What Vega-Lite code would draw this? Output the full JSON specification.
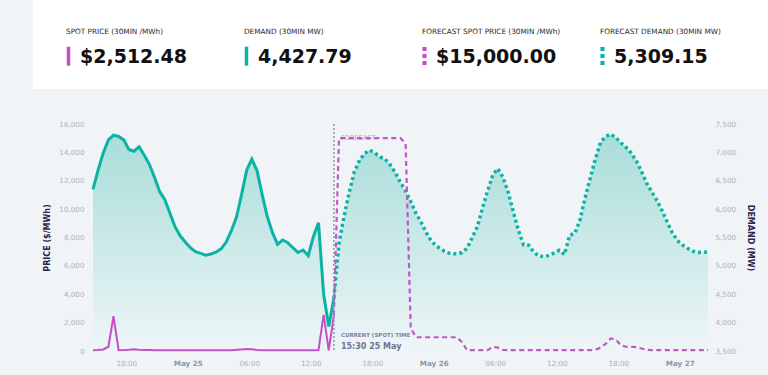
{
  "$schema": "https://vega.github.io/schema/vega-lite/v6.json",
  "background": "#f0f4f7",
  "padding": {"left": 33, "top": 0, "right": 0, "bottom": 9},
  "spacing": 31,
  "config": {
    "font": "DejaVu Sans",
    "view": {"stroke": null},
    "axis": {"grid": false, "domain": false, "ticks": false, "tickSize": 0, "labelOverlap": false},
    "axisLeft": {
      "offset": -60,
      "labelFontSize": 7.2,
      "labelColor": "#aab3bd",
      "labelPadding": 9,
      "titleFontSize": 8,
      "titleFontWeight": "bold",
      "titleColor": "#2d2350",
      "titlePadding": 7
    },
    "axisRight": {
      "offset": -60,
      "labelFontSize": 7.2,
      "labelColor": "#aab3bd",
      "labelPadding": 7,
      "titleFontSize": 8,
      "titleFontWeight": "bold",
      "titleColor": "#2d2350",
      "titlePadding": 10
    }
  },
  "datasets": {
    "kpi": [
      {"metric": "SPOT PRICE (30MIN /MWh)", "value": 2512.48, "series": "price", "kind": "actual"},
      {"metric": "DEMAND (30MIN MW)", "value": 4427.79, "series": "demand", "kind": "actual"},
      {"metric": "FORECAST SPOT PRICE (30MIN /MWh)", "value": 15000, "series": "price", "kind": "forecast"},
      {"metric": "FORECAST DEMAND (30MIN MW)", "value": 5309.15, "series": "demand", "kind": "forecast"}
    ],
    "now": [
      {"t": "2024-05-25T14:15:00Z", "caption": "CURRENT (SPOT) TIME", "stamp": "15:30 25 May", "zone": "FORECAST"}
    ],
    "demand": [
      {"t": "2024-05-24T14:45:00Z", "mw": 6350, "series": "Actual"},
      {"t": "2024-05-24T15:15:00Z", "mw": 6690, "series": "Actual"},
      {"t": "2024-05-24T15:45:00Z", "mw": 6990, "series": "Actual"},
      {"t": "2024-05-24T16:15:00Z", "mw": 7220, "series": "Actual"},
      {"t": "2024-05-24T16:45:00Z", "mw": 7305, "series": "Actual"},
      {"t": "2024-05-24T17:15:00Z", "mw": 7280, "series": "Actual"},
      {"t": "2024-05-24T17:45:00Z", "mw": 7220, "series": "Actual"},
      {"t": "2024-05-24T18:15:00Z", "mw": 7050, "series": "Actual"},
      {"t": "2024-05-24T18:45:00Z", "mw": 7020, "series": "Actual"},
      {"t": "2024-05-24T19:15:00Z", "mw": 7100, "series": "Actual"},
      {"t": "2024-05-24T19:45:00Z", "mw": 6950, "series": "Actual"},
      {"t": "2024-05-24T20:15:00Z", "mw": 6790, "series": "Actual"},
      {"t": "2024-05-24T20:45:00Z", "mw": 6560, "series": "Actual"},
      {"t": "2024-05-24T21:15:00Z", "mw": 6310, "series": "Actual"},
      {"t": "2024-05-24T21:45:00Z", "mw": 6170, "series": "Actual"},
      {"t": "2024-05-24T22:15:00Z", "mw": 5930, "series": "Actual"},
      {"t": "2024-05-24T22:45:00Z", "mw": 5690, "series": "Actual"},
      {"t": "2024-05-24T23:15:00Z", "mw": 5530, "series": "Actual"},
      {"t": "2024-05-24T23:45:00Z", "mw": 5420, "series": "Actual"},
      {"t": "2024-05-25T00:15:00Z", "mw": 5320, "series": "Actual"},
      {"t": "2024-05-25T00:45:00Z", "mw": 5250, "series": "Actual"},
      {"t": "2024-05-25T01:15:00Z", "mw": 5220, "series": "Actual"},
      {"t": "2024-05-25T01:45:00Z", "mw": 5190, "series": "Actual"},
      {"t": "2024-05-25T02:15:00Z", "mw": 5210, "series": "Actual"},
      {"t": "2024-05-25T02:45:00Z", "mw": 5240, "series": "Actual"},
      {"t": "2024-05-25T03:15:00Z", "mw": 5300, "series": "Actual"},
      {"t": "2024-05-25T03:45:00Z", "mw": 5420, "series": "Actual"},
      {"t": "2024-05-25T04:15:00Z", "mw": 5620, "series": "Actual"},
      {"t": "2024-05-25T04:45:00Z", "mw": 5860, "series": "Actual"},
      {"t": "2024-05-25T05:15:00Z", "mw": 6260, "series": "Actual"},
      {"t": "2024-05-25T05:45:00Z", "mw": 6690, "series": "Actual"},
      {"t": "2024-05-25T06:15:00Z", "mw": 6880, "series": "Actual"},
      {"t": "2024-05-25T06:45:00Z", "mw": 6680, "series": "Actual"},
      {"t": "2024-05-25T07:15:00Z", "mw": 6260, "series": "Actual"},
      {"t": "2024-05-25T07:45:00Z", "mw": 5870, "series": "Actual"},
      {"t": "2024-05-25T08:15:00Z", "mw": 5590, "series": "Actual"},
      {"t": "2024-05-25T08:45:00Z", "mw": 5380, "series": "Actual"},
      {"t": "2024-05-25T09:15:00Z", "mw": 5456, "series": "Actual"},
      {"t": "2024-05-25T09:45:00Z", "mw": 5410, "series": "Actual"},
      {"t": "2024-05-25T10:15:00Z", "mw": 5320, "series": "Actual"},
      {"t": "2024-05-25T10:45:00Z", "mw": 5235, "series": "Actual"},
      {"t": "2024-05-25T11:15:00Z", "mw": 5280, "series": "Actual"},
      {"t": "2024-05-25T11:45:00Z", "mw": 5180, "series": "Actual"},
      {"t": "2024-05-25T12:15:00Z", "mw": 5515, "series": "Actual"},
      {"t": "2024-05-25T12:45:00Z", "mw": 5760, "series": "Actual"},
      {"t": "2024-05-25T13:15:00Z", "mw": 4500, "series": "Actual"},
      {"t": "2024-05-25T13:45:00Z", "mw": 3930, "series": "Actual"},
      {"t": "2024-05-25T14:15:00Z", "mw": 4427.79, "series": "Actual"},
      {"t": "2024-05-25T14:15:00Z", "mw": 4427.79, "series": "Forecast"},
      {"t": "2024-05-25T14:45:00Z", "mw": 5400, "series": "Forecast"},
      {"t": "2024-05-25T15:15:00Z", "mw": 5880, "series": "Forecast"},
      {"t": "2024-05-25T15:45:00Z", "mw": 6300, "series": "Forecast"},
      {"t": "2024-05-25T16:15:00Z", "mw": 6660, "series": "Forecast"},
      {"t": "2024-05-25T16:45:00Z", "mw": 6860, "series": "Forecast"},
      {"t": "2024-05-25T17:15:00Z", "mw": 6980, "series": "Forecast"},
      {"t": "2024-05-25T17:45:00Z", "mw": 7040, "series": "Forecast"},
      {"t": "2024-05-25T18:15:00Z", "mw": 6990, "series": "Forecast"},
      {"t": "2024-05-25T18:45:00Z", "mw": 6920, "series": "Forecast"},
      {"t": "2024-05-25T19:15:00Z", "mw": 6880, "series": "Forecast"},
      {"t": "2024-05-25T19:45:00Z", "mw": 6780, "series": "Forecast"},
      {"t": "2024-05-25T20:15:00Z", "mw": 6640, "series": "Forecast"},
      {"t": "2024-05-25T20:45:00Z", "mw": 6470, "series": "Forecast"},
      {"t": "2024-05-25T21:15:00Z", "mw": 6320, "series": "Forecast"},
      {"t": "2024-05-25T21:45:00Z", "mw": 6130, "series": "Forecast"},
      {"t": "2024-05-25T22:15:00Z", "mw": 5930, "series": "Forecast"},
      {"t": "2024-05-25T22:45:00Z", "mw": 5770, "series": "Forecast"},
      {"t": "2024-05-25T23:15:00Z", "mw": 5590, "series": "Forecast"},
      {"t": "2024-05-25T23:45:00Z", "mw": 5440, "series": "Forecast"},
      {"t": "2024-05-26T00:15:00Z", "mw": 5350, "series": "Forecast"},
      {"t": "2024-05-26T00:45:00Z", "mw": 5290, "series": "Forecast"},
      {"t": "2024-05-26T01:15:00Z", "mw": 5235, "series": "Forecast"},
      {"t": "2024-05-26T01:45:00Z", "mw": 5215, "series": "Forecast"},
      {"t": "2024-05-26T02:15:00Z", "mw": 5212, "series": "Forecast"},
      {"t": "2024-05-26T02:45:00Z", "mw": 5235, "series": "Forecast"},
      {"t": "2024-05-26T03:15:00Z", "mw": 5310, "series": "Forecast"},
      {"t": "2024-05-26T03:45:00Z", "mw": 5500, "series": "Forecast"},
      {"t": "2024-05-26T04:15:00Z", "mw": 5690, "series": "Forecast"},
      {"t": "2024-05-26T04:45:00Z", "mw": 6020, "series": "Forecast"},
      {"t": "2024-05-26T05:15:00Z", "mw": 6320, "series": "Forecast"},
      {"t": "2024-05-26T05:45:00Z", "mw": 6600, "series": "Forecast"},
      {"t": "2024-05-26T06:15:00Z", "mw": 6715, "series": "Forecast"},
      {"t": "2024-05-26T06:45:00Z", "mw": 6560, "series": "Forecast"},
      {"t": "2024-05-26T07:15:00Z", "mw": 6300, "series": "Forecast"},
      {"t": "2024-05-26T07:45:00Z", "mw": 5960, "series": "Forecast"},
      {"t": "2024-05-26T08:15:00Z", "mw": 5630, "series": "Forecast"},
      {"t": "2024-05-26T08:45:00Z", "mw": 5370, "series": "Forecast"},
      {"t": "2024-05-26T09:15:00Z", "mw": 5365, "series": "Forecast"},
      {"t": "2024-05-26T09:45:00Z", "mw": 5245, "series": "Forecast"},
      {"t": "2024-05-26T10:15:00Z", "mw": 5170, "series": "Forecast"},
      {"t": "2024-05-26T10:45:00Z", "mw": 5162, "series": "Forecast"},
      {"t": "2024-05-26T11:15:00Z", "mw": 5185, "series": "Forecast"},
      {"t": "2024-05-26T11:45:00Z", "mw": 5230, "series": "Forecast"},
      {"t": "2024-05-26T12:15:00Z", "mw": 5275, "series": "Forecast"},
      {"t": "2024-05-26T12:45:00Z", "mw": 5200, "series": "Forecast"},
      {"t": "2024-05-26T13:15:00Z", "mw": 5540, "series": "Forecast"},
      {"t": "2024-05-26T13:45:00Z", "mw": 5570, "series": "Forecast"},
      {"t": "2024-05-26T14:15:00Z", "mw": 5800, "series": "Forecast"},
      {"t": "2024-05-26T14:45:00Z", "mw": 6190, "series": "Forecast"},
      {"t": "2024-05-26T15:15:00Z", "mw": 6540, "series": "Forecast"},
      {"t": "2024-05-26T15:45:00Z", "mw": 6880, "series": "Forecast"},
      {"t": "2024-05-26T16:15:00Z", "mw": 7170, "series": "Forecast"},
      {"t": "2024-05-26T16:45:00Z", "mw": 7280, "series": "Forecast"},
      {"t": "2024-05-26T17:15:00Z", "mw": 7320, "series": "Forecast"},
      {"t": "2024-05-26T17:45:00Z", "mw": 7260, "series": "Forecast"},
      {"t": "2024-05-26T18:15:00Z", "mw": 7170, "series": "Forecast"},
      {"t": "2024-05-26T18:45:00Z", "mw": 7090, "series": "Forecast"},
      {"t": "2024-05-26T19:15:00Z", "mw": 6990, "series": "Forecast"},
      {"t": "2024-05-26T19:45:00Z", "mw": 6850, "series": "Forecast"},
      {"t": "2024-05-26T20:15:00Z", "mw": 6670, "series": "Forecast"},
      {"t": "2024-05-26T20:45:00Z", "mw": 6460, "series": "Forecast"},
      {"t": "2024-05-26T21:15:00Z", "mw": 6310, "series": "Forecast"},
      {"t": "2024-05-26T21:45:00Z", "mw": 6160, "series": "Forecast"},
      {"t": "2024-05-26T22:15:00Z", "mw": 5980, "series": "Forecast"},
      {"t": "2024-05-26T22:45:00Z", "mw": 5780, "series": "Forecast"},
      {"t": "2024-05-26T23:15:00Z", "mw": 5590, "series": "Forecast"},
      {"t": "2024-05-26T23:45:00Z", "mw": 5450, "series": "Forecast"},
      {"t": "2024-05-27T00:15:00Z", "mw": 5370, "series": "Forecast"},
      {"t": "2024-05-27T00:45:00Z", "mw": 5310, "series": "Forecast"},
      {"t": "2024-05-27T01:15:00Z", "mw": 5260, "series": "Forecast"},
      {"t": "2024-05-27T01:45:00Z", "mw": 5235, "series": "Forecast"},
      {"t": "2024-05-27T02:15:00Z", "mw": 5240, "series": "Forecast"},
      {"t": "2024-05-27T02:45:00Z", "mw": 5245, "series": "Forecast"}
    ],
    "price": [
      {"t": "2024-05-24T14:45:00Z", "p": 60, "series": "Actual"},
      {"t": "2024-05-24T15:15:00Z", "p": 65, "series": "Actual"},
      {"t": "2024-05-24T15:45:00Z", "p": 110, "series": "Actual"},
      {"t": "2024-05-24T16:15:00Z", "p": 300, "series": "Actual"},
      {"t": "2024-05-24T16:45:00Z", "p": 2450, "series": "Actual"},
      {"t": "2024-05-24T17:15:00Z", "p": 60, "series": "Actual"},
      {"t": "2024-05-24T17:45:00Z", "p": 65, "series": "Actual"},
      {"t": "2024-05-24T18:15:00Z", "p": 80, "series": "Actual"},
      {"t": "2024-05-24T18:45:00Z", "p": 130, "series": "Actual"},
      {"t": "2024-05-24T19:15:00Z", "p": 90, "series": "Actual"},
      {"t": "2024-05-24T19:45:00Z", "p": 70, "series": "Actual"},
      {"t": "2024-05-24T20:15:00Z", "p": 65, "series": "Actual"},
      {"t": "2024-05-24T20:45:00Z", "p": 60, "series": "Actual"},
      {"t": "2024-05-24T21:15:00Z", "p": 60, "series": "Actual"},
      {"t": "2024-05-24T21:45:00Z", "p": 55, "series": "Actual"},
      {"t": "2024-05-24T22:15:00Z", "p": 55, "series": "Actual"},
      {"t": "2024-05-24T22:45:00Z", "p": 55, "series": "Actual"},
      {"t": "2024-05-24T23:15:00Z", "p": 50, "series": "Actual"},
      {"t": "2024-05-24T23:45:00Z", "p": 50, "series": "Actual"},
      {"t": "2024-05-25T00:15:00Z", "p": 50, "series": "Actual"},
      {"t": "2024-05-25T00:45:00Z", "p": 50, "series": "Actual"},
      {"t": "2024-05-25T01:15:00Z", "p": 50, "series": "Actual"},
      {"t": "2024-05-25T01:45:00Z", "p": 50, "series": "Actual"},
      {"t": "2024-05-25T02:15:00Z", "p": 50, "series": "Actual"},
      {"t": "2024-05-25T02:45:00Z", "p": 50, "series": "Actual"},
      {"t": "2024-05-25T03:15:00Z", "p": 55, "series": "Actual"},
      {"t": "2024-05-25T03:45:00Z", "p": 55, "series": "Actual"},
      {"t": "2024-05-25T04:15:00Z", "p": 60, "series": "Actual"},
      {"t": "2024-05-25T04:45:00Z", "p": 80, "series": "Actual"},
      {"t": "2024-05-25T05:15:00Z", "p": 110, "series": "Actual"},
      {"t": "2024-05-25T05:45:00Z", "p": 140, "series": "Actual"},
      {"t": "2024-05-25T06:15:00Z", "p": 120, "series": "Actual"},
      {"t": "2024-05-25T06:45:00Z", "p": 70, "series": "Actual"},
      {"t": "2024-05-25T07:15:00Z", "p": 60, "series": "Actual"},
      {"t": "2024-05-25T07:45:00Z", "p": 60, "series": "Actual"},
      {"t": "2024-05-25T08:15:00Z", "p": 55, "series": "Actual"},
      {"t": "2024-05-25T08:45:00Z", "p": 55, "series": "Actual"},
      {"t": "2024-05-25T09:15:00Z", "p": 55, "series": "Actual"},
      {"t": "2024-05-25T09:45:00Z", "p": 55, "series": "Actual"},
      {"t": "2024-05-25T10:15:00Z", "p": 55, "series": "Actual"},
      {"t": "2024-05-25T10:45:00Z", "p": 55, "series": "Actual"},
      {"t": "2024-05-25T11:15:00Z", "p": 55, "series": "Actual"},
      {"t": "2024-05-25T11:45:00Z", "p": 55, "series": "Actual"},
      {"t": "2024-05-25T12:15:00Z", "p": 60, "series": "Actual"},
      {"t": "2024-05-25T12:45:00Z", "p": 70, "series": "Actual"},
      {"t": "2024-05-25T13:15:00Z", "p": 2540, "series": "Actual"},
      {"t": "2024-05-25T13:45:00Z", "p": 50, "series": "Actual"},
      {"t": "2024-05-25T14:15:00Z", "p": 2512.48, "series": "Actual"},
      {"t": "2024-05-25T14:15:00Z", "p": 2512.48, "series": "Forecast"},
      {"t": "2024-05-25T14:45:00Z", "p": 15000, "series": "Forecast"},
      {"t": "2024-05-25T15:15:00Z", "p": 15000, "series": "Forecast"},
      {"t": "2024-05-25T15:45:00Z", "p": 15000, "series": "Forecast"},
      {"t": "2024-05-25T16:15:00Z", "p": 15000, "series": "Forecast"},
      {"t": "2024-05-25T16:45:00Z", "p": 15000, "series": "Forecast"},
      {"t": "2024-05-25T17:15:00Z", "p": 15000, "series": "Forecast"},
      {"t": "2024-05-25T17:45:00Z", "p": 15000, "series": "Forecast"},
      {"t": "2024-05-25T18:15:00Z", "p": 15000, "series": "Forecast"},
      {"t": "2024-05-25T18:45:00Z", "p": 15000, "series": "Forecast"},
      {"t": "2024-05-25T19:15:00Z", "p": 15000, "series": "Forecast"},
      {"t": "2024-05-25T19:45:00Z", "p": 15000, "series": "Forecast"},
      {"t": "2024-05-25T20:15:00Z", "p": 15000, "series": "Forecast"},
      {"t": "2024-05-25T20:45:00Z", "p": 15000, "series": "Forecast"},
      {"t": "2024-05-25T21:15:00Z", "p": 14600, "series": "Forecast"},
      {"t": "2024-05-25T21:45:00Z", "p": 1600, "series": "Forecast"},
      {"t": "2024-05-25T22:15:00Z", "p": 970, "series": "Forecast"},
      {"t": "2024-05-25T22:45:00Z", "p": 970, "series": "Forecast"},
      {"t": "2024-05-25T23:15:00Z", "p": 970, "series": "Forecast"},
      {"t": "2024-05-25T23:45:00Z", "p": 970, "series": "Forecast"},
      {"t": "2024-05-26T00:15:00Z", "p": 970, "series": "Forecast"},
      {"t": "2024-05-26T00:45:00Z", "p": 970, "series": "Forecast"},
      {"t": "2024-05-26T01:15:00Z", "p": 970, "series": "Forecast"},
      {"t": "2024-05-26T01:45:00Z", "p": 970, "series": "Forecast"},
      {"t": "2024-05-26T02:15:00Z", "p": 970, "series": "Forecast"},
      {"t": "2024-05-26T02:45:00Z", "p": 620, "series": "Forecast"},
      {"t": "2024-05-26T03:15:00Z", "p": 60, "series": "Forecast"},
      {"t": "2024-05-26T03:45:00Z", "p": 60, "series": "Forecast"},
      {"t": "2024-05-26T04:15:00Z", "p": 60, "series": "Forecast"},
      {"t": "2024-05-26T04:45:00Z", "p": 60, "series": "Forecast"},
      {"t": "2024-05-26T05:15:00Z", "p": 60, "series": "Forecast"},
      {"t": "2024-05-26T05:45:00Z", "p": 300, "series": "Forecast"},
      {"t": "2024-05-26T06:15:00Z", "p": 240, "series": "Forecast"},
      {"t": "2024-05-26T06:45:00Z", "p": 70, "series": "Forecast"},
      {"t": "2024-05-26T07:15:00Z", "p": 60, "series": "Forecast"},
      {"t": "2024-05-26T07:45:00Z", "p": 60, "series": "Forecast"},
      {"t": "2024-05-26T08:15:00Z", "p": 60, "series": "Forecast"},
      {"t": "2024-05-26T08:45:00Z", "p": 60, "series": "Forecast"},
      {"t": "2024-05-26T09:15:00Z", "p": 60, "series": "Forecast"},
      {"t": "2024-05-26T09:45:00Z", "p": 60, "series": "Forecast"},
      {"t": "2024-05-26T10:15:00Z", "p": 60, "series": "Forecast"},
      {"t": "2024-05-26T10:45:00Z", "p": 60, "series": "Forecast"},
      {"t": "2024-05-26T11:15:00Z", "p": 60, "series": "Forecast"},
      {"t": "2024-05-26T11:45:00Z", "p": 60, "series": "Forecast"},
      {"t": "2024-05-26T12:15:00Z", "p": 60, "series": "Forecast"},
      {"t": "2024-05-26T12:45:00Z", "p": 60, "series": "Forecast"},
      {"t": "2024-05-26T13:15:00Z", "p": 60, "series": "Forecast"},
      {"t": "2024-05-26T13:45:00Z", "p": 60, "series": "Forecast"},
      {"t": "2024-05-26T14:15:00Z", "p": 60, "series": "Forecast"},
      {"t": "2024-05-26T14:45:00Z", "p": 60, "series": "Forecast"},
      {"t": "2024-05-26T15:15:00Z", "p": 60, "series": "Forecast"},
      {"t": "2024-05-26T15:45:00Z", "p": 90, "series": "Forecast"},
      {"t": "2024-05-26T16:15:00Z", "p": 220, "series": "Forecast"},
      {"t": "2024-05-26T16:45:00Z", "p": 500, "series": "Forecast"},
      {"t": "2024-05-26T17:15:00Z", "p": 880, "series": "Forecast"},
      {"t": "2024-05-26T17:45:00Z", "p": 820, "series": "Forecast"},
      {"t": "2024-05-26T18:15:00Z", "p": 400, "series": "Forecast"},
      {"t": "2024-05-26T18:45:00Z", "p": 300, "series": "Forecast"},
      {"t": "2024-05-26T19:15:00Z", "p": 300, "series": "Forecast"},
      {"t": "2024-05-26T19:45:00Z", "p": 270, "series": "Forecast"},
      {"t": "2024-05-26T20:15:00Z", "p": 180, "series": "Forecast"},
      {"t": "2024-05-26T20:45:00Z", "p": 80, "series": "Forecast"},
      {"t": "2024-05-26T21:15:00Z", "p": 60, "series": "Forecast"},
      {"t": "2024-05-26T21:45:00Z", "p": 60, "series": "Forecast"},
      {"t": "2024-05-26T22:15:00Z", "p": 60, "series": "Forecast"},
      {"t": "2024-05-26T22:45:00Z", "p": 60, "series": "Forecast"},
      {"t": "2024-05-26T23:15:00Z", "p": 60, "series": "Forecast"},
      {"t": "2024-05-26T23:45:00Z", "p": 60, "series": "Forecast"},
      {"t": "2024-05-27T00:15:00Z", "p": 60, "series": "Forecast"},
      {"t": "2024-05-27T00:45:00Z", "p": 60, "series": "Forecast"},
      {"t": "2024-05-27T01:15:00Z", "p": 60, "series": "Forecast"},
      {"t": "2024-05-27T01:45:00Z", "p": 60, "series": "Forecast"},
      {"t": "2024-05-27T02:15:00Z", "p": 60, "series": "Forecast"},
      {"t": "2024-05-27T02:45:00Z", "p": 60, "series": "Forecast"}
    ]
  },
  "vconcat": [
    {
      "width": 735,
      "height": 89,
      "view": {"fill": "#ffffff", "stroke": null},
      "data": {"name": "kpi"},
      "encoding": {
        "x": {
          "field": "metric",
          "type": "nominal",
          "sort": null,
          "scale": {
            "type": "point",
            "padding": 0,
            "domain": ["SPOT PRICE (30MIN /MWh)", "DEMAND (30MIN MW)", "FORECAST SPOT PRICE (30MIN /MWh)", "FORECAST DEMAND (30MIN MW)"],
            "range": [33, 567]
          },
          "axis": null
        }
      },
      "layer": [
        {
          "mark": {"type": "text", "align": "left", "baseline": "middle", "dy": -12.2, "fontSize": 7.3, "color": "#2a2a2a"},
          "encoding": {"text": {"field": "metric"}}
        },
        {
          "transform": [{"filter": "datum.series == 'price'"}],
          "mark": {"type": "text", "align": "left", "baseline": "middle", "dx": 14, "dy": 12.5, "fontSize": 19, "fontWeight": "bold", "color": "#111111"},
          "encoding": {"text": {"field": "value", "type": "quantitative", "format": "$,.2f"}}
        },
        {
          "transform": [{"filter": "datum.series == 'demand'"}],
          "mark": {"type": "text", "align": "left", "baseline": "middle", "dx": 14, "dy": 12.5, "fontSize": 19, "fontWeight": "bold", "color": "#111111"},
          "encoding": {"text": {"field": "value", "type": "quantitative", "format": ",.2f"}}
        },
        {
          "transform": [{"filter": "datum.kind == 'actual'"}],
          "mark": {"type": "tick", "orient": "vertical", "size": 19, "thickness": 3.5, "yOffset": 11.7, "xOffset": 2.5, "opacity": 1},
          "encoding": {"color": {"field": "series", "type": "nominal", "scale": {"domain": ["price", "demand"], "range": ["#c24fc6", "#0ab3a8"]}, "legend": null}}
        },
        {
          "transform": [{"filter": "datum.kind == 'forecast'"}],
          "mark": {"type": "point", "shape": "square", "filled": true, "size": 17, "opacity": 1, "yOffset": 4.5, "xOffset": 2.5},
          "encoding": {"color": {"field": "series", "type": "nominal", "scale": {"domain": ["price", "demand"], "range": ["#c24fc6", "#0ab3a8"]}, "legend": null}}
        },
        {
          "transform": [{"filter": "datum.kind == 'forecast'"}],
          "mark": {"type": "point", "shape": "square", "filled": true, "size": 17, "opacity": 1, "yOffset": 11.5, "xOffset": 2.5},
          "encoding": {"color": {"field": "series", "type": "nominal", "scale": {"domain": ["price", "demand"], "range": ["#c24fc6", "#0ab3a8"]}, "legend": null}}
        },
        {
          "transform": [{"filter": "datum.kind == 'forecast'"}],
          "mark": {"type": "point", "shape": "square", "filled": true, "size": 17, "opacity": 1, "yOffset": 18.5, "xOffset": 2.5},
          "encoding": {"color": {"field": "series", "type": "nominal", "scale": {"domain": ["price", "demand"], "range": ["#c24fc6", "#0ab3a8"]}, "legend": null}}
        }
      ]
    },
    {
      "width": 735,
      "height": 227,
      "encoding": {
        "x": {
          "field": "t",
          "type": "temporal",
          "scale": {
            "type": "utc",
            "nice": false,
            "domain": [
              {"year": 2024, "month": 5, "date": 24, "hours": 14, "minutes": 45, "utc": true},
              {"year": 2024, "month": 5, "date": 27, "hours": 2, "minutes": 45, "utc": true}
            ],
            "range": [60, 675]
          },
          "axis": {
            "title": null,
            "values": [
              {"year": 2024, "month": 5, "date": 24, "hours": 18, "utc": true},
              {"year": 2024, "month": 5, "date": 25, "hours": 0, "utc": true},
              {"year": 2024, "month": 5, "date": 25, "hours": 6, "utc": true},
              {"year": 2024, "month": 5, "date": 25, "hours": 12, "utc": true},
              {"year": 2024, "month": 5, "date": 25, "hours": 18, "utc": true},
              {"year": 2024, "month": 5, "date": 26, "hours": 0, "utc": true},
              {"year": 2024, "month": 5, "date": 26, "hours": 6, "utc": true},
              {"year": 2024, "month": 5, "date": 26, "hours": 12, "utc": true},
              {"year": 2024, "month": 5, "date": 26, "hours": 18, "utc": true},
              {"year": 2024, "month": 5, "date": 27, "hours": 0, "utc": true}
            ],
            "labelExpr": "utchours(datum.value) == 0 ? utcFormat(datum.value, '%b %d') : utcFormat(datum.value, '%H:%M')",
            "labelFontSize": 7.2,
            "labelColor": {"condition": {"test": "utchours(datum.value) == 0", "value": "#8a98a6"}, "value": "#aab3bd"},
            "labelFontWeight": {"condition": {"test": "utchours(datum.value) == 0", "value": "bold"}, "value": "normal"},
            "labelPadding": 8,
            "labelFlush": false
          }
        }
      },
      "layer": [
        {
          "data": {"name": "demand"},
          "encoding": {
            "y": {
              "field": "mw",
              "type": "quantitative",
              "stack": null,
              "scale": {"domain": [3500, 7500], "nice": false, "zero": false},
              "axis": {
                "orient": "right",
                "title": "DEMAND (MW)",
                "values": [3500, 4000, 4500, 5000, 5500, 6000, 6500, 7000, 7500],
                "format": ",.0f"
              }
            }
          },
          "layer": [
            {
              "mark": {
                "type": "area",
                "color": {
                  "gradient": "linear",
                  "x1": 0, "y1": 0, "x2": 0, "y2": 1,
                  "stops": [
                    {"offset": 0, "color": "#a8ddd9"},
                    {"offset": 1, "color": "#eef5f7"}
                  ]
                }
              }
            },
            {
              "transform": [{"filter": "datum.series == 'Actual'"}],
              "mark": {"type": "line", "color": "#0bb3a7", "strokeWidth": 3}
            },
            {
              "transform": [{"filter": "datum.series == 'Forecast'"}],
              "mark": {"type": "line", "color": "#0bb3a7", "strokeWidth": 3.5, "strokeDash": [3, 3]}
            }
          ]
        },
        {
          "layer": [
            {
              "data": {"name": "price"},
              "transform": [{"filter": "datum.series == 'Actual'"}],
              "mark": {"type": "line", "color": "#c44fc7", "strokeWidth": 2},
              "encoding": {
                "y": {
                  "field": "p",
                  "type": "quantitative",
                  "scale": {"domain": [0, 16000], "nice": false},
                  "axis": {"orient": "left", "title": "PRICE ($/MWh)", "values": [0, 2000, 4000, 6000, 8000, 10000, 12000, 14000, 16000], "format": ",.0f"}
                }
              }
            },
            {
              "data": {"name": "now"},
              "mark": {"type": "text", "align": "left", "baseline": "middle", "dx": 7, "fontSize": 6.5, "letterSpacing": 0.6, "color": "#aaa5c9"},
              "encoding": {
                "x": {"field": "t", "type": "temporal"},
                "y": {"datum": 15000, "type": "quantitative", "axis": {"orient": "left", "title": "PRICE ($/MWh)", "values": [0, 2000, 4000, 6000, 8000, 10000, 12000, 14000, 16000], "format": ",.0f"}},
                "text": {"field": "zone"}
              }
            },
            {
              "data": {"name": "price"},
              "transform": [{"filter": "datum.series == 'Forecast'"}],
              "mark": {"type": "line", "color": "#c455c8", "strokeWidth": 2.2, "strokeDash": [5, 3.5]},
              "encoding": {"y": {"field": "p", "type": "quantitative", "axis": {"orient": "left", "title": "PRICE ($/MWh)", "values": [0, 2000, 4000, 6000, 8000, 10000, 12000, 14000, 16000], "format": ",.0f"}}}
            },
            {
              "data": {"name": "now"},
              "mark": {"type": "rule", "color": "#8e93b6", "strokeWidth": 1.5, "strokeDash": [2, 2]},
              "encoding": {
                "x": {"field": "t", "type": "temporal"},
                "y": {"datum": 16000, "type": "quantitative", "axis": {"orient": "left", "title": "PRICE ($/MWh)", "values": [0, 2000, 4000, 6000, 8000, 10000, 12000, 14000, 16000], "format": ",.0f"}},
                "y2": {"datum": 0}
              }
            },
            {
              "data": {"name": "now"},
              "mark": {"type": "text", "align": "left", "baseline": "alphabetic", "dx": 7, "dy": -13.7, "fontSize": 5.5, "fontWeight": "bold", "color": "#7c82a8"},
              "encoding": {
                "x": {"field": "t", "type": "temporal"},
                "y": {"datum": 0, "type": "quantitative", "axis": {"orient": "left", "title": "PRICE ($/MWh)", "values": [0, 2000, 4000, 6000, 8000, 10000, 12000, 14000, 16000], "format": ",.0f"}},
                "text": {"field": "caption"}
              }
            },
            {
              "data": {"name": "now"},
              "mark": {"type": "text", "align": "left", "baseline": "alphabetic", "dx": 7, "dy": -2, "fontSize": 8, "fontWeight": "bold", "color": "#6f7597"},
              "encoding": {
                "x": {"field": "t", "type": "temporal"},
                "y": {"datum": 0, "type": "quantitative", "axis": {"orient": "left", "title": "PRICE ($/MWh)", "values": [0, 2000, 4000, 6000, 8000, 10000, 12000, 14000, 16000], "format": ",.0f"}},
                "text": {"field": "stamp"}
              }
            }
          ]
        }
      ],
      "resolve": {"scale": {"y": "independent"}}
    }
  ]
}
